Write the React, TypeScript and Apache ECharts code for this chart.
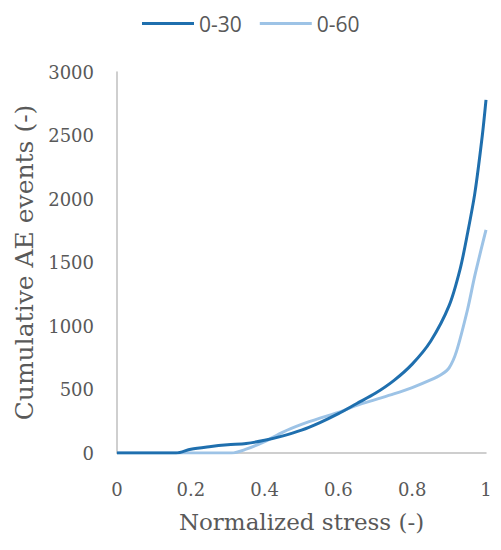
import React, { useEffect, useRef } from "react";
import * as echarts from "echarts";

const seriesNames = ["0-30", "0-60"];
const x030 = [0, 0.16, 0.2, 0.25, 0.3, 0.35, 0.4, 0.45, 0.5, 0.55, 0.6, 0.65, 0.7, 0.75, 0.8, 0.85, 0.9, 0.93, 0.95, 0.97, 0.99, 1];
const y030 = [0, 0, 30, 50, 65, 75, 100, 135, 180, 240, 310, 390, 470, 570, 700, 880, 1160, 1450, 1730, 2050, 2500, 2780];
const x060 = [0, 0.31, 0.35, 0.4, 0.45, 0.5, 0.55, 0.6, 0.65, 0.7, 0.75, 0.8, 0.85, 0.88, 0.9, 0.92, 0.95, 0.97, 1];
const y060 = [0, 0, 30, 90, 165, 225, 275, 320, 375, 420, 465, 515, 575, 620, 670, 800, 1130, 1400, 1756];

const serif = "'DejaVu Serif', serif";

export default function App() {
  const ref = useRef<HTMLDivElement>(null);
  useEffect(() => {
    if (!ref.current) return;
    const chart = echarts.init(ref.current, undefined, { renderer: "svg" });
    const zip = (xs: number[], ys: number[]) => xs.map((x, i) => [x, ys[i]]);
    chart.setOption({
      animation: false,
      legend: {
        top: 8,
        left: 137,
        icon: "rect",
        itemWidth: 52,
        itemHeight: 3,
        itemGap: 18,
        textStyle: { fontFamily: "'Open Sans', sans-serif", fontSize: 21, color: "#595959" },
        data: seriesNames,
      },
      grid: { left: 117, right: 15, top: 72, bottom: 97 },
      xAxis: {
        type: "value",
        min: 0,
        max: 1,
        interval: 0.2,
        name: "Normalized stress (-)",
        nameLocation: "middle",
        nameGap: 57,
        nameTextStyle: { fontFamily: serif, fontSize: 23, color: "#595959" },
        axisLine: { show: true, lineStyle: { color: "#bfbfbf", width: 1.5 } },
        axisTick: { show: false },
        splitLine: { show: false },
        axisLabel: { fontFamily: serif, fontSize: 18, color: "#595959", margin: 27, formatter: (v: number) => String(v) },
      },
      yAxis: {
        type: "value",
        min: 0,
        max: 3000,
        interval: 500,
        name: "Cumulative AE events (-)",
        nameLocation: "middle",
        nameRotate: 90,
        nameGap: 77,
        nameTextStyle: { fontFamily: serif, fontSize: 25, color: "#595959" },
        axisLine: { show: true, lineStyle: { color: "#bfbfbf", width: 1.5 } },
        axisTick: { show: false },
        splitLine: { show: false },
        axisLabel: { fontFamily: serif, fontSize: 18, color: "#595959", margin: 23, formatter: (v: number) => String(v) },
      },
      series: [
        {
          name: seriesNames[0],
          type: "line",
          data: zip(x030, y030),
          showSymbol: false,
          smooth: 0.3,
          lineStyle: { color: "#1f6fae", width: 3 },
          itemStyle: { color: "#1f6fae" },
          z: 3,
        },
        {
          name: seriesNames[1],
          type: "line",
          data: zip(x060, y060),
          showSymbol: false,
          smooth: 0.3,
          lineStyle: { color: "#9dc3e6", width: 3 },
          itemStyle: { color: "#9dc3e6" },
          z: 2,
        },
      ],
    });
    return () => chart.dispose();
  }, []);
  return <div ref={ref} style={{ position: "absolute", left: 0, top: 0, width: 501, height: 550 }} />;
}
